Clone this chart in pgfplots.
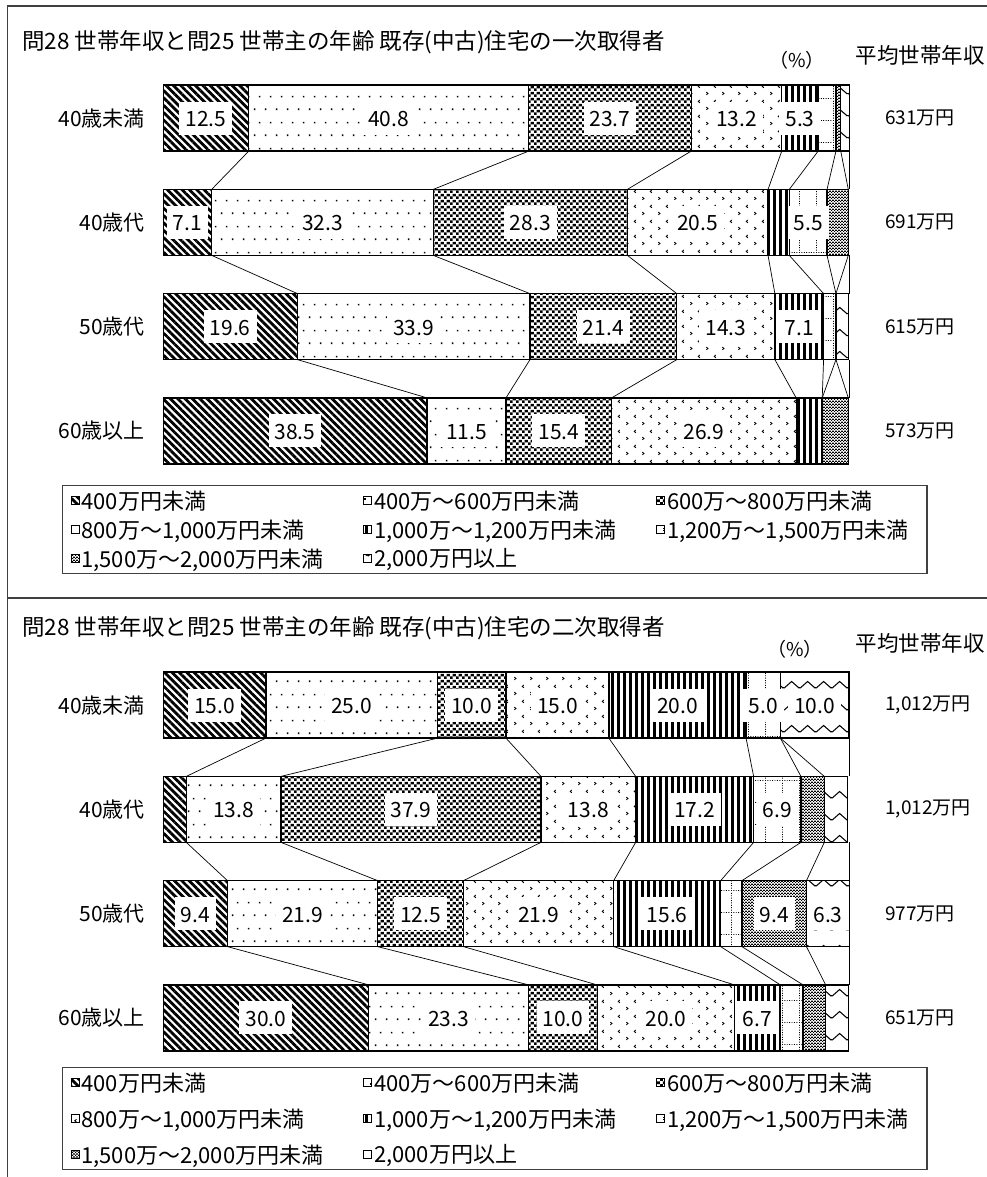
\documentclass[border=0pt]{standalone}
\usepackage{fontspec}
\setmainfont{Noto Sans CJK JP}
\usepackage{pgfplots}
\pgfplotsset{compat=1.18}
\usetikzlibrary{patterns.meta}

% --- fill patterns (black on white) ---
\tikzdeclarepattern{name=sdots,type=colored,
  bottom left={(0pt,0pt)},top right={(11pt,26pt)},tile size={(11pt,26pt)},
  code={\tikzset{x=1pt,y=1pt}
    \fill[black] (1,1) rectangle (2.6,2.6);
    \fill[black] (6.5,14) rectangle (8.1,15.6);}}
\tikzdeclarepattern{name=check,type=colored,
  bottom left={(0pt,0pt)},top right={(6pt,6pt)},tile size={(6pt,6pt)},
  code={\tikzset{x=1pt,y=1pt}
    \fill[black] (0,0) rectangle (3,3);
    \fill[black] (3,3) rectangle (6,6);}}
\tikzdeclarepattern{name=chev,type=colored,
  bottom left={(0pt,0pt)},top right={(16pt,15pt)},tile size={(16pt,15pt)},
  code={\tikzset{x=1pt,y=1pt}
    \draw[black,line width=0.9pt] (2.5,2.3)--(4.2,3.75)--(2.5,5.2);
    \draw[black,line width=0.9pt] (12.5,9.8)--(10.8,11.25)--(12.5,12.7);}}
\tikzdeclarepattern{name=dgrid,type=colored,
  bottom left={(0pt,0pt)},top right={(17pt,22pt)},tile size={(17pt,22pt)},
  code={\tikzset{x=1pt,y=1pt}
    \draw[black,line width=1pt,dash pattern=on 1pt off 1.5pt] (0,0.5)--(17,0.5);
    \draw[black,line width=1pt,dash pattern=on 1pt off 1.5pt] (0.5,0)--(0.5,22);}}
\tikzdeclarepattern{name=fcheck,type=colored,
  bottom left={(0pt,0pt)},top right={(3pt,3pt)},tile size={(3pt,3pt)},
  code={\tikzset{x=1pt,y=1pt}
    \fill[black] (0,0) rectangle (1.5,1.5);
    \fill[black] (1.5,1.5) rectangle (3,3);}}
\tikzdeclarepattern{name=zig,type=colored,
  bottom left={(0pt,0pt)},top right={(16pt,22pt)},tile size={(16pt,22pt)},
  code={\tikzset{x=1pt,y=1pt}
    \draw[black,line width=1.1pt] (0,5)--(8,12)--(16,5);}}

\newcommand\lbl[1]{{\setlength\fboxsep{0pt}\colorbox{white}{\rule[-8pt]{0pt}{33pt}\hspace{6pt}\pgfmathprintnumber[fixed,fixed zerofill,precision=1,assume math mode=true]{#1}\hspace{6pt}}}}
\newcommand\conn[3]{\addplot[conn] coordinates {(#2,#1.3165) (#3,#1.6835)};}
\newcommand\leg[1]{\addlegendentry{\makebox[280pt][l]{#1}}}
\newcommand\legc[1]{\addlegendentry{\makebox[250pt][l]{#1}}}

\pgfplotsset{
  seg/.style={draw=black,line width=1.3pt},
  p1/.style={seg,pattern={Lines[angle=-45,distance=5.2pt,line width=2.8pt]}},
  p2/.style={seg,pattern=sdots},
  p3/.style={seg,pattern=check},
  p4/.style={seg,pattern=chev},
  p5/.style={seg,pattern={Lines[angle=90,distance=6pt,line width=3pt]}},
  p6/.style={seg,pattern=dgrid},
  p7/.style={seg,pattern=fcheck},
  p8/.style={seg,pattern=zig},
  conn/.style={black,line width=0.7pt,mark=none},
  base/.style={scale only axis,width=687pt,height=417pt,
    xmin=0,xmax=100.15,ymin=-0.5,ymax=3.5,y dir=reverse,
    axis line style={draw=none},major tick length=0pt,
    xtick=\empty,ytick={0,1,2,3}},
  barax/.style={base,xbar stacked,bar width=66pt,
    yticklabels={40歳未満,40歳代,50歳代,60歳以上},
    yticklabel style={font=\fontsize{21}{24}\selectfont,inner xsep=0pt,xshift=-18pt},
    visualization depends on=rawx \as \rawx,
    nodes near coords={\ifdim\rawx pt<4.9pt\else\lbl{\rawx}\fi},
    every node near coord/.append style={anchor=center,inner sep=0pt,
      font=\fontsize{21}{24}\selectfont},
    legend columns=3,legend cell align=left,
    legend image code/.code={\draw[##1,line width=0.8pt] (0pt,-4pt) rectangle (8pt,4pt);},
    legend style={anchor=north west,draw=black!75,line width=1.2pt,
      font=\fontsize{22}{26}\selectfont,inner xsep=8pt,inner ysep=3pt,
      /tikz/every even column/.append style={column sep=0pt}}},
  lineax/.style={base,yticklabel pos=right,
    yticklabel style={font=\fontsize{19}{22}\selectfont,inner xsep=0pt,xshift=35pt}},
}

\begin{document}
\begin{tikzpicture}
\path[use as bounding box] (0pt,0pt) rectangle (987pt,-1177pt);
% panel frames
\draw[black!75,line width=1.3pt] (7.5pt,-1177pt) -- (7.5pt,-6pt) -- (987pt,-6pt);
\draw[black!75,line width=1.3pt] (7.5pt,-598pt) -- (987pt,-598pt);

% ================= panel 1 =================
\node[anchor=west,font=\fontsize{22.5}{26}\selectfont,inner sep=0pt] at (22pt,-42pt)
  {問28 世帯年収と問25 世帯主の年齢 既存(中古)住宅の一次取得者};
\node[font=\fontsize{19}{22}\selectfont,inner sep=0pt] at (797pt,-60pt) {（\%）};
\node[font=\fontsize{21.5}{24}\selectfont,inner sep=0pt] at (920pt,-55pt) {平均世帯年収};

\begin{axis}[barax,at={(163pt,-66pt)},anchor=north west,
  legend style={at={(-0.147,-0.005)},row sep=5pt}]
\addplot[p1] coordinates {(12.5,0) (7.1,1) (19.6,2) (38.5,3)}; \leg{400万円未満}
\addplot[p2] coordinates {(40.8,0) (32.3,1) (33.9,2) (11.5,3)}; \leg{400万～600万円未満}
\addplot[p3] coordinates {(23.7,0) (28.3,1) (21.4,2) (15.4,3)}; \legc{600万～800万円未満}
\addplot[p4] coordinates {(13.2,0) (20.5,1) (14.3,2) (26.9,3)}; \leg{800万～1,000万円未満}
\addplot[p5] coordinates {(5.3,0) (3.1,1) (7.1,2) (3.8,3)}; \leg{1,000万～1,200万円未満}
\addplot[p6] coordinates {(2.6,0) (5.5,1) (1.8,2) (0,3)}; \legc{1,200万～1,500万円未満}
\addplot[p7] coordinates {(0.7,0) (3.1,1) (0,2) (3.8,3)}; \leg{1,500万～2,000万円未満}
\addplot[p8] coordinates {(1.3,0) (0,1) (1.8,2) (0,3)}; \leg{2,000万円以上}
\end{axis}

\begin{axis}[lineax,at={(163pt,-66pt)},anchor=north west,
  yticklabels={631万円,691万円,615万円,573万円}]
\conn{0}{12.5}{7.1}\conn{0}{53.3}{39.4}\conn{0}{77.0}{67.7}\conn{0}{90.2}{88.2}
\conn{0}{95.5}{91.3}\conn{0}{98.1}{96.8}\conn{0}{98.8}{99.9}\conn{0}{100}{100}
\conn{1}{7.1}{19.6}\conn{1}{39.4}{53.5}\conn{1}{67.7}{74.9}\conn{1}{88.2}{89.2}
\conn{1}{91.3}{96.3}\conn{1}{96.8}{98.1}\conn{1}{99.9}{98.1}\conn{1}{100}{100}
\conn{2}{19.6}{38.5}\conn{2}{53.5}{50.0}\conn{2}{74.9}{65.4}\conn{2}{89.2}{92.3}
\conn{2}{96.3}{96.1}\conn{2}{98.1}{96.1}\conn{2}{98.1}{99.9}\conn{2}{100}{100}
\end{axis}

% ================= panel 2 =================
\node[anchor=west,font=\fontsize{22.5}{26}\selectfont,inner sep=0pt] at (22pt,-628pt)
  {問28 世帯年収と問25 世帯主の年齢 既存(中古)住宅の二次取得者};
\node[font=\fontsize{19}{22}\selectfont,inner sep=0pt] at (795pt,-649pt) {（\%）};
\node[font=\fontsize{21.5}{24}\selectfont,inner sep=0pt] at (920pt,-643pt) {平均世帯年収};

\begin{axis}[barax,at={(163pt,-653pt)},anchor=north west,
  legend style={at={(-0.147,0.007)},row sep=12pt}]
\addplot[p1] coordinates {(15.0,0) (3.4,1) (9.4,2) (30.0,3)}; \leg{400万円未満}
\addplot[p2] coordinates {(25.0,0) (13.8,1) (21.9,2) (23.3,3)}; \leg{400万～600万円未満}
\addplot[p3] coordinates {(10.0,0) (37.9,1) (12.5,2) (10.0,3)}; \legc{600万～800万円未満}
\addplot[p4] coordinates {(15.0,0) (13.8,1) (21.9,2) (20.0,3)}; \leg{800万～1,000万円未満}
\addplot[p5] coordinates {(20.0,0) (17.2,1) (15.6,2) (6.7,3)}; \leg{1,000万～1,200万円未満}
\addplot[p6] coordinates {(5.0,0) (6.9,1) (3.1,2) (3.3,3)}; \legc{1,200万～1,500万円未満}
\addplot[p7] coordinates {(0,0) (3.4,1) (9.4,2) (3.3,3)}; \leg{1,500万～2,000万円未満}
\addplot[p8] coordinates {(10.0,0) (3.4,1) (6.3,2) (3.3,3)}; \leg{2,000万円以上}
\end{axis}

\begin{axis}[lineax,at={(163pt,-653pt)},anchor=north west,
  yticklabels={{1,012万円},{1,012万円},977万円,651万円}]
\conn{0}{15}{3.4}\conn{0}{40}{17.2}\conn{0}{50}{55.1}\conn{0}{65}{68.9}
\conn{0}{85}{86.1}\conn{0}{90}{93.0}\conn{0}{90}{96.4}\conn{0}{100}{100}
\conn{1}{3.4}{9.4}\conn{1}{17.2}{31.3}\conn{1}{55.1}{43.8}\conn{1}{68.9}{65.7}
\conn{1}{86.1}{81.3}\conn{1}{93.0}{84.4}\conn{1}{96.4}{93.8}\conn{1}{100}{100}
\conn{2}{9.4}{30.0}\conn{2}{31.3}{53.3}\conn{2}{43.8}{63.3}\conn{2}{65.7}{83.3}
\conn{2}{81.3}{90.0}\conn{2}{84.4}{93.3}\conn{2}{93.8}{96.6}\conn{2}{100}{100}
\end{axis}
\end{tikzpicture}
\end{document}
